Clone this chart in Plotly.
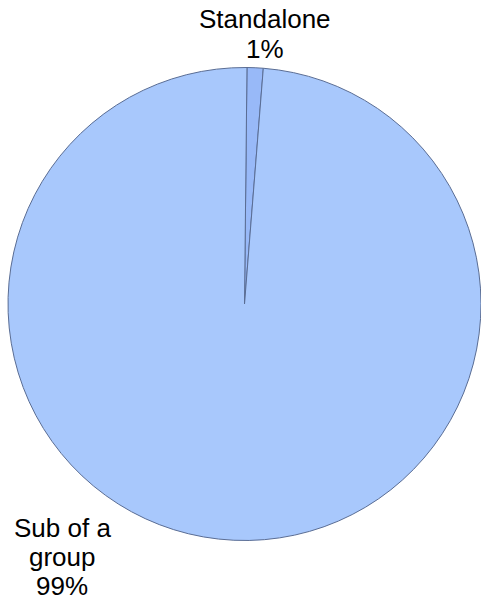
import plotly.graph_objects as go

# Data
labels = ["Standalone", "Sub of a group"]
values = [1.1, 98.9]
label_lines = [["Standalone"], ["Sub of a", "group"]]
colors = ["#98B9F8", "#A8C8FC"]

W, H = 481, 605
total = sum(values)
pcts = [f"{round(v / total * 100)}%" for v in values]

fig = go.Figure(go.Pie(
    labels=labels,
    values=values,
    sort=False,
    direction="clockwise",
    rotation=0.6,
    textinfo="none",
    hoverinfo="label+percent",
    marker=dict(colors=colors, line=dict(color="#5A6D94", width=1)),
    domain=dict(x=[8 / W, 1.0], y=[(H - 541) / H, (H - 67) / H]),
    showlegend=False,
))

font = dict(family="Liberation Sans, Arial, sans-serif", size=26, color="#000000")

def add_lines(lines, cx, baselines):
    for txt, b in zip(lines, baselines):
        fig.add_annotation(
            text=txt, x=cx / W, y=1 - (b - 9) / H,
            xref="paper", yref="paper", xanchor="center", yanchor="middle",
            showarrow=False, font=font,
        )

add_lines(label_lines[0] + [pcts[0]], 264.5, [28, 58])
add_lines(label_lines[1] + [pcts[1]], 62, [537, 566, 595])

fig.update_layout(
    width=W, height=H,
    margin=dict(l=0, r=0, t=0, b=0),
    paper_bgcolor="white",
    plot_bgcolor="white",
)

fig.write_html("out.html")
